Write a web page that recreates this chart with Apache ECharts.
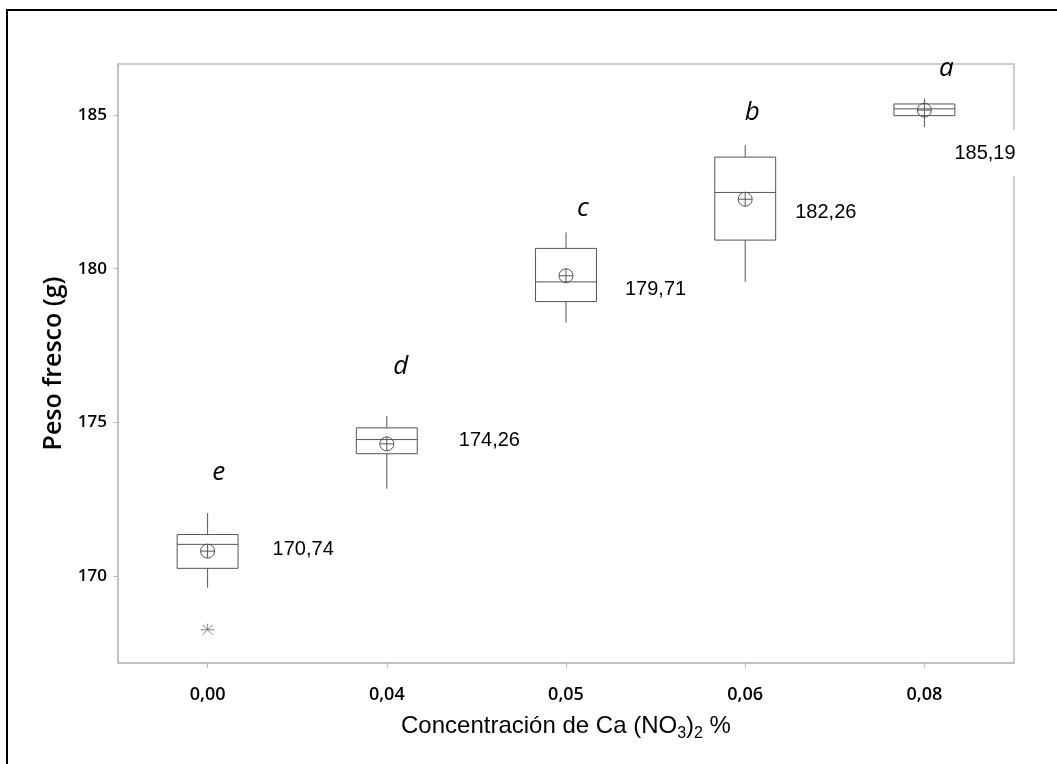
<!DOCTYPE html>
<html><head><meta charset="utf-8">
<script src="https://cdn.jsdelivr.net/npm/echarts@6/dist/echarts.min.js"></script>
<style>html,body{margin:0;padding:0;background:#fff}#c{width:1057px;height:764px}</style>
</head><body><div id="c"></div><script>
// ---- data ----
const categories = ['0,00', '0,04', '0,05', '0,06', '0,08'];
const whiskerLow  = [169.62, 172.84, 178.24, 179.57, 184.61];
const q1          = [170.25, 173.98, 178.93, 180.93, 184.98];
const median      = [171.03, 174.44, 179.57, 182.48, 185.20];
const q3          = [171.35, 174.82, 180.66, 183.63, 185.36];
const whiskerHigh = [172.05, 175.20, 181.18, 184.02, 185.53];
const means       = [170.81, 174.30, 179.77, 182.26, 185.16];
const outliers    = [[0, 168.25]];
const meanLabels  = ['170,74', '174,26', '179,71', '182,26', '185,19'];
const groupLetters = ['e', 'd', 'c', 'b', 'a'];
const yTicks = [170, 175, 180, 185];
const yMin = 167.17, yMax = 186.66;

// ---- annotation layout (pixel offsets) ----
const labelDx = [65, 72, 59, 50, 30];
const labelDy = [-2, -3, 14, 13, 43];
const letterDx = [11, 14, 17, 7, 22];
const letterDy = [-40, -50, -24, -33, -30];

const chart = echarts.init(document.getElementById('c'));
const boxData = categories.map((c, i) => [i, whiskerLow[i], q1[i], median[i], q3[i], whiskerHigh[i], means[i]]);
const GRAY = '#555';

function renderBox(params, api) {
  const i = api.value(0);
  const cx = api.coord([i, api.value(3)])[0];
  const half = api.size([1, 0])[0] * 0.17;
  const y = v => api.coord([i, v])[1];
  const yl = y(api.value(1)), yq1 = y(api.value(2)), ym = y(api.value(3)),
        yq3 = y(api.value(4)), yh = y(api.value(5)), ymean = y(api.value(6));
  const st = { stroke: GRAY, lineWidth: 1, fill: null };
  const r = 7;
  const idx = params.dataIndex;
  return {
    type: 'group',
    children: [
      { type: 'line', shape: { x1: cx, y1: yh, x2: cx, y2: yq3 }, style: st },
      { type: 'line', shape: { x1: cx, y1: yq1, x2: cx, y2: yl }, style: st },
      { type: 'rect', shape: { x: cx - half, y: yq3, width: 2 * half, height: yq1 - yq3 }, style: { stroke: GRAY, lineWidth: 1, fill: '#fff' } },
      { type: 'line', shape: { x1: cx - half, y1: ym, x2: cx + half, y2: ym }, style: st },
      { type: 'circle', shape: { cx: cx, cy: ymean, r: r }, style: { stroke: GRAY, lineWidth: 1, fill: null } },
      { type: 'line', shape: { x1: cx - r, y1: ymean, x2: cx + r, y2: ymean }, style: st },
      { type: 'line', shape: { x1: cx, y1: ymean - r, x2: cx, y2: ymean + r }, style: st },
      { type: 'text', x: cx + labelDx[idx] - (idx === 4 ? 2 : 0), y: ymean + labelDy[idx],
        style: { text: meanLabels[idx], fill: '#000', font: '20px "Liberation Sans", Arial, sans-serif',
                 align: 'left', verticalAlign: 'middle',
                 backgroundColor: idx === 4 ? '#fff' : null, padding: idx === 4 ? [13, 2] : 0 } },
      { type: 'text', x: cx + letterDx[idx], y: yh + letterDy[idx],
        style: { text: groupLetters[idx], fill: '#000', font: 'italic 26px "Open Sans", sans-serif',
                 align: 'center', verticalAlign: 'middle' } }
    ]
  };
}

function renderOutlier(params, api) {
  const p = api.coord([api.value(0), api.value(1)]);
  const s = 7, d = 5;
  const st = { stroke: '#666', lineWidth: 0.8 };
  return {
    type: 'group',
    children: [
      { type: 'line', shape: { x1: p[0] - s, y1: p[1], x2: p[0] + s, y2: p[1] }, style: st },
      { type: 'line', shape: { x1: p[0] - d, y1: p[1] - d, x2: p[0] + d, y2: p[1] + d }, style: st },
      { type: 'line', shape: { x1: p[0] - d, y1: p[1] + d, x2: p[0] + d, y2: p[1] - d }, style: st },
      { type: 'line', shape: { x1: p[0], y1: p[1] - 6, x2: p[0], y2: p[1] }, style: st }
    ]
  };
}

const tickFont = { fontFamily: '"Open Sans", sans-serif', fontWeight: 600, fontSize: 17, color: '#000' };
const axisGray = '#bdbdbd';

chart.setOption({
  animation: false,
  backgroundColor: '#fff',
  grid: { left: 118, right: 43, top: 64, bottom: 101, show: true, borderColor: axisGray, borderWidth: 1.5, backgroundColor: 'transparent' },
  xAxis: {
    type: 'category',
    data: categories,
    boundaryGap: true,
    axisLine: { show: true, lineStyle: { color: axisGray, width: 1.5 } },
    axisTick: { show: true, alignWithLabel: true, length: 5, lineStyle: { color: axisGray } },
    axisLabel: Object.assign({}, tickFont, { margin: 23, fontSize: 18 }),
    splitLine: { show: false },
    name: '{n|Concentración de Ca (NO}{s|3}{n|)}{s|2}{n| %}',
    nameLocation: 'middle',
    nameGap: 47,
    nameTextStyle: {
      rich: {
        n: { fontFamily: '"Liberation Sans", Arial, sans-serif', fontSize: 24, color: '#000', lineHeight: 32 },
        s: { fontFamily: '"Liberation Sans", Arial, sans-serif', fontSize: 16, color: '#000', lineHeight: 12, verticalAlign: 'bottom' }
      }
    }
  },
  yAxis: {
    type: 'value',
    min: yMin, max: yMax,
    axisLine: { show: true, lineStyle: { color: axisGray, width: 1.5 } },
    axisTick: { show: true, length: 5, customValues: yTicks, lineStyle: { color: axisGray } },
    axisLabel: Object.assign({ margin: 11, customValues: yTicks }, tickFont),
    splitLine: { show: false },
    name: 'Peso fresco (g)',
    nameLocation: 'middle',
    nameRotate: 90,
    nameGap: 52,
    nameTextStyle: { fontFamily: '"Open Sans", sans-serif', fontWeight: 600, fontSize: 25, color: '#000' }
  },
  graphic: [
    { type: 'rect', shape: { x: 7, y: 10, width: 1100, height: 820 }, style: { stroke: '#000', lineWidth: 2, fill: null }, silent: true, z: 100 }
  ],
  series: [
    { type: 'custom', renderItem: renderBox, data: boxData, encode: { x: 0, y: [1, 5] }, z: 5 },
    { type: 'custom', renderItem: renderOutlier, data: outliers, encode: { x: 0, y: 1 }, z: 5 }
  ]
});
</script></body></html>
